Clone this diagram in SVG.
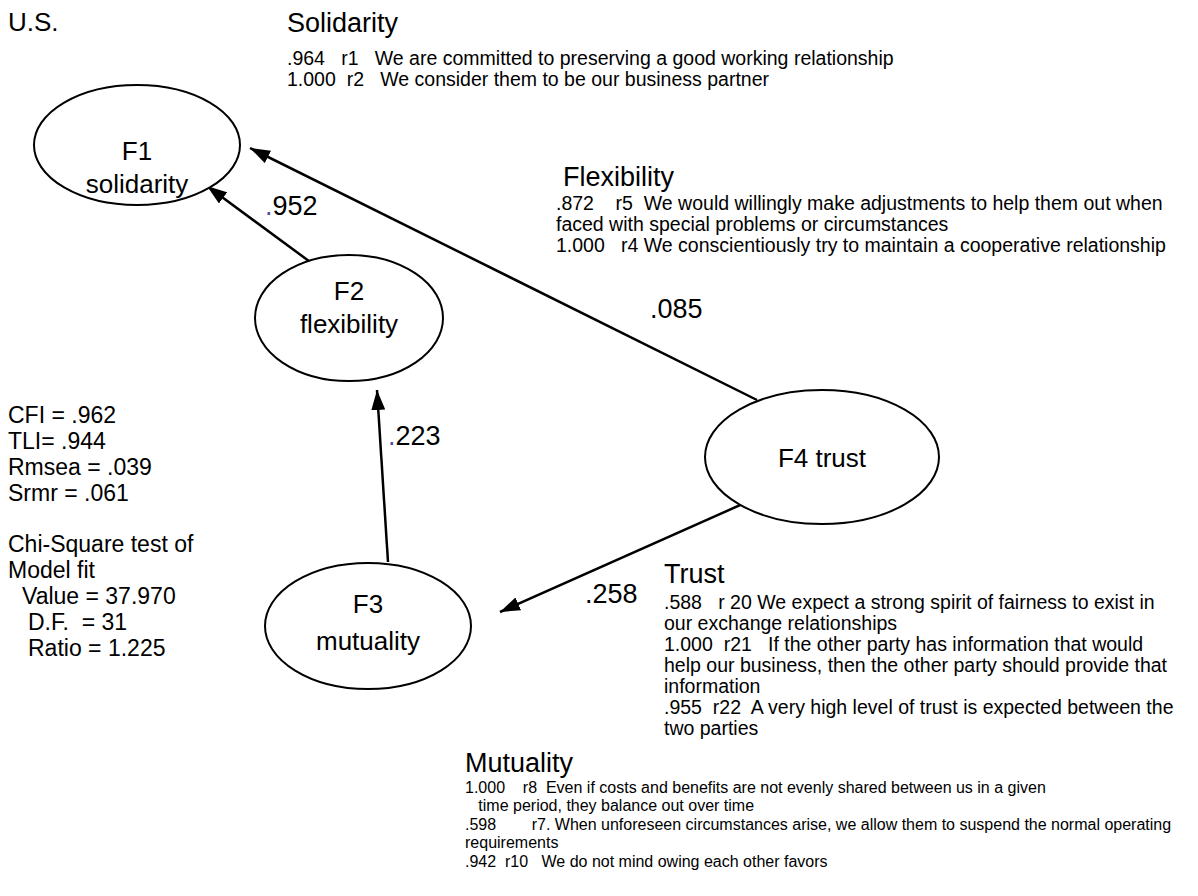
<svg xmlns="http://www.w3.org/2000/svg" width="1198" height="896" viewBox="0 0 1198 896">
<defs>
<marker id="ah" markerWidth="20" markerHeight="14" refX="20" refY="7" orient="auto" markerUnits="userSpaceOnUse">
<path d="M0,0 L20,7 L0,14 Z" fill="#000"/>
</marker>
<style>
text{font-family:"Liberation Sans",Arial,sans-serif;fill:#000;white-space:pre}
.big{font-size:26px}
.node{font-size:26px;text-anchor:middle}
.hdr{font-size:27px}
.det{font-size:19.5px}
.mut{font-size:16px}
.fit{font-size:23px}
.lab{font-size:27px}
.dot{fill:#5050a0}
ellipse{fill:#fff;stroke:#000;stroke-width:2}
.edge{stroke:#000;stroke-width:2.5;fill:none;marker-end:url(#ah)}
</style>
</defs>
<rect width="1198" height="896" fill="#fff"/>
<text class="big" x="8" y="31">U.S.</text>

<g id="connectors">
<line class="edge" x1="317" y1="267" x2="207" y2="186"/>
<line class="edge" x1="757" y1="400" x2="250" y2="148"/>
<line class="edge" x1="388" y1="562" x2="377" y2="390"/>
<line class="edge" x1="747" y1="502" x2="500" y2="612"/>
</g>

<g id="F1">
<ellipse cx="137" cy="145" rx="103" ry="60"/>
<text class="node" x="137" y="160">F1</text>
<text class="node" x="137" y="193">solidarity</text>
</g>
<g id="F2">
<ellipse cx="349" cy="318" rx="94" ry="63"/>
<text class="node" x="349" y="300">F2</text>
<text class="node" x="349" y="333">flexibility</text>
</g>
<g id="F3">
<ellipse cx="368" cy="626" rx="103" ry="63"/>
<text class="node" x="368" y="613">F3</text>
<text class="node" x="368" y="650">mutuality</text>
</g>
<g id="F4">
<ellipse cx="822" cy="457" rx="117" ry="67"/>
<text class="node" x="822" y="467">F4 trust</text>
</g>

<g id="edge-labels">
<text class="lab" x="265" y="215"><tspan class="dot">.</tspan>952</text>
<text class="lab" x="650" y="318">.085</text>
<text class="lab" x="388" y="445"><tspan class="dot">.</tspan>223</text>
<text class="lab" x="585" y="603">.258</text>
</g>

<g id="solidarity-items">
<text class="hdr" x="287" y="32">Solidarity</text>
<text class="det" x="287" y="65">.964   r1   We are committed to preserving a good working relationship</text>
<text class="det" x="287" y="86">1.000  r2   We consider them to be our business partner</text>
</g>

<g id="flexibility-items">
<text class="hdr" x="563" y="186">Flexibility</text>
<text class="det" x="556" y="210">.872    r5  We would willingly make adjustments to help them out when</text>
<text class="det" x="556" y="231">faced with special problems or circumstances</text>
<text class="det" x="556" y="252">1.000   r4 We conscientiously try to maintain a cooperative relationship</text>
</g>

<g id="trust-items">
<text class="hdr" x="664" y="583">Trust</text>
<text class="det" x="664" y="609">.588   r 20 We expect a strong spirit of fairness to exist in</text>
<text class="det" x="664" y="630">our exchange relationships</text>
<text class="det" x="664" y="651">1.000  r21   If the other party has information that would</text>
<text class="det" x="664" y="672">help our business, then the other party should provide that</text>
<text class="det" x="664" y="693">information</text>
<text class="det" x="664" y="714">.955  r22  A very high level of trust is expected between the</text>
<text class="det" x="664" y="735">two parties</text>
</g>

<g id="mutuality-items">
<text class="hdr" x="465" y="772">Mutuality</text>
<text class="mut" x="465" y="793">1.000    r8  Even if costs and benefits are not evenly shared between us in a given</text>
<text class="mut" x="465" y="811">   time period, they balance out over time</text>
<text class="mut" x="465" y="830">.598        r7. When unforeseen circumstances arise, we allow them to suspend the normal operating</text>
<text class="mut" x="465" y="848">requirements</text>
<text class="mut" x="465" y="867">.942  r10   We do not mind owing each other favors</text>
</g>

<g id="fit-stats">
<text class="fit" x="8" y="423">CFI = .962</text>
<text class="fit" x="8" y="449">TLI= .944</text>
<text class="fit" x="8" y="475">Rmsea = .039</text>
<text class="fit" x="8" y="501">Srmr = .061</text>
<text class="fit" x="8" y="552">Chi-Square test of</text>
<text class="fit" x="8" y="578">Model fit</text>
<text class="fit" x="22" y="604">Value = 37.970</text>
<text class="fit" x="28" y="630">D.F.  = 31</text>
<text class="fit" x="28" y="656">Ratio = 1.225</text>
</g>
</svg>
